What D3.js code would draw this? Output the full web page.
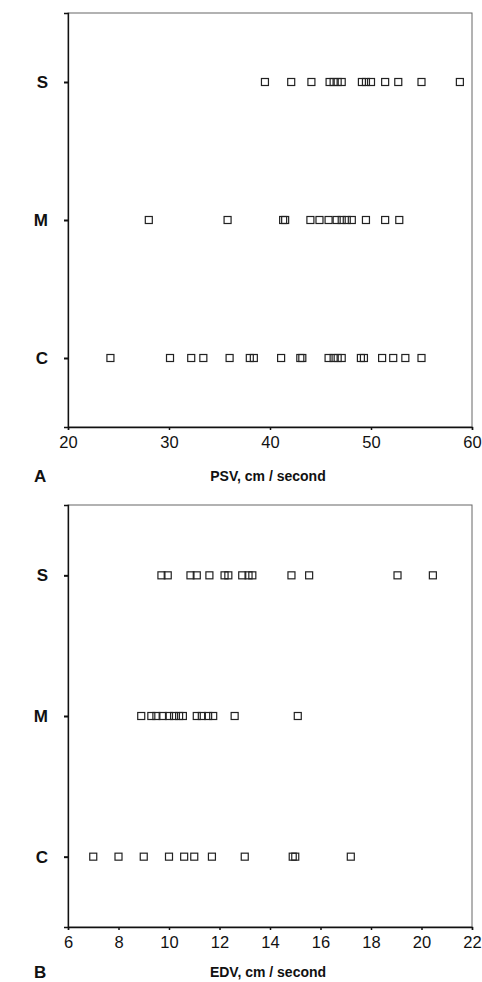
<!DOCTYPE html>
<html>
<head>
<meta charset="utf-8">
<script src="https://cdn.jsdelivr.net/npm/d3@7"></script>
<style>
  body { margin: 0; background: #fff; }
  svg { display: block; font-family: "Liberation Sans", Arial, sans-serif; }
  .axis-title { font-size: 14px; font-weight: bold; fill: #111; }
  .panel-letter { font-size: 17px; font-weight: bold; fill: #111; }
</style>
</head>
<body>
<svg class="chart"></svg>
<script>
var categories = ["C", "M", "S"];

// panel A: peak systolic velocity
var psvTicks = [20, 30, 40, 50, 60];
var psvS = [39.5, 42.1, 44.1, 45.9, 46.3, 46.7, 47.1, 49.1, 49.5, 50.0, 51.4, 52.7, 55.0, 58.8];
var psvM = [28.0, 35.8, 41.3, 41.5, 44.0, 44.9, 45.8, 46.6, 47.1, 47.6, 48.1, 49.5, 51.4, 52.8];
var psvC = [24.2, 30.1, 32.2, 33.4, 36.0, 38.0, 38.4, 41.1, 43.0, 43.2, 45.8, 46.3, 46.7, 47.1,
            49.0, 49.3, 51.1, 52.2, 53.4, 55.0];

// panel B: end diastolic velocity
var edvTicks = [6, 8, 10, 12, 14, 16, 18, 20, 22];
var edvS = [9.7, 9.95, 10.85, 11.1, 11.6, 12.2, 12.35, 12.9, 13.15, 13.3, 14.85, 15.55, 19.05, 20.45];
var edvM = [8.9, 9.3, 9.5, 9.75, 10.0, 10.2, 10.4, 10.55, 11.1, 11.3, 11.55, 11.75, 12.6, 15.1];
var edvC = [7.0, 8.0, 9.0, 10.0, 10.6, 11.0, 11.7, 13.0, 14.9, 15.0, 17.2];

var svg = d3.select(".chart")
  .attr("width", 482)
  .attr("height", 982);

function drawPanel(opts) {
  var left = 68, width = 404;
  var g = svg.append("g")
    .attr("transform", "translate(" + left + "," + opts.top + ")");

  var x = d3.scaleLinear()
    .domain(opts.domain)
    .range([0, width]);

  var y = d3.scaleLinear()
    .domain([-0.5, 2.5])
    .range([opts.height, 0]);

  // frame (top and right lighter)
  g.append("rect")
    .attr("width", width)
    .attr("height", opts.height)
    .attr("fill", "none")
    .attr("stroke", "#666")
    .attr("stroke-width", 1);

  // x axis
  var xAxis = d3.axisBottom(x)
    .tickValues(opts.ticks)
    .tickSize(3)
    .tickPadding(6);
  var xa = g.append("g")
    .attr("transform", "translate(0," + opts.height + ")")
    .call(xAxis);
  xa.select(".domain").attr("stroke", "#111").attr("stroke-width", 1.3);
  xa.selectAll(".tick line").attr("stroke", "#111").attr("stroke-width", 1.5);
  xa.selectAll("text")
    .attr("fill", "#111")
    .style("font-size", "16.5px")
    .style("font-family", "Liberation Sans, Arial, sans-serif");

  // y axis
  var yAxis = d3.axisLeft(y)
    .tickValues([0, 1, 2])
    .tickSize(4)
    .tickPadding(16)
    .tickFormat(function(d) { return categories[d]; });
  var ya = g.append("g").call(yAxis);
  ya.select(".domain").attr("stroke", "#111").attr("stroke-width", 1.3);
  ya.selectAll(".tick line").attr("stroke", "#111").attr("stroke-width", 2);
  ya.selectAll("text")
    .attr("fill", "#111")
    .style("font-size", "17px")
    .style("font-weight", "bold")
    .style("font-family", "Liberation Sans, Arial, sans-serif");

  // points
  var rows = [opts.c, opts.m, opts.s];
  rows.forEach(function(vals, i) {
    g.selectAll(".pt" + i)
      .data(vals)
      .enter().append("rect")
      .attr("class", "pt" + i)
      .attr("x", function(d) { return x(d) - 3.5; })
      .attr("y", y(i) - 3.5)
      .attr("width", 7)
      .attr("height", 7)
      .attr("fill", "none")
      .attr("stroke", "#222")
      .attr("stroke-width", 1.2);
  });

  svg.append("text")
    .attr("class", "axis-title")
    .attr("x", left + width / 2 - 2)
    .attr("y", opts.top + opts.height + opts.titleGap)
    .attr("text-anchor", "middle")
    .text(opts.title);

  svg.append("text")
    .attr("class", "panel-letter")
    .attr("x", 34)
    .attr("y", opts.top + opts.height + opts.titleGap + 1)
    .text(opts.letter);
}

drawPanel({
  top: 13, height: 414, domain: [20, 60], ticks: psvTicks,
  s: psvS, m: psvM, c: psvC, titleGap: 54,
  title: "PSV, cm / second", letter: "A"
});

drawPanel({
  top: 505, height: 422, domain: [6, 22], ticks: edvTicks,
  s: edvS, m: edvM, c: edvC, titleGap: 50,
  title: "EDV, cm / second", letter: "B"
});
</script>
</body>
</html>
